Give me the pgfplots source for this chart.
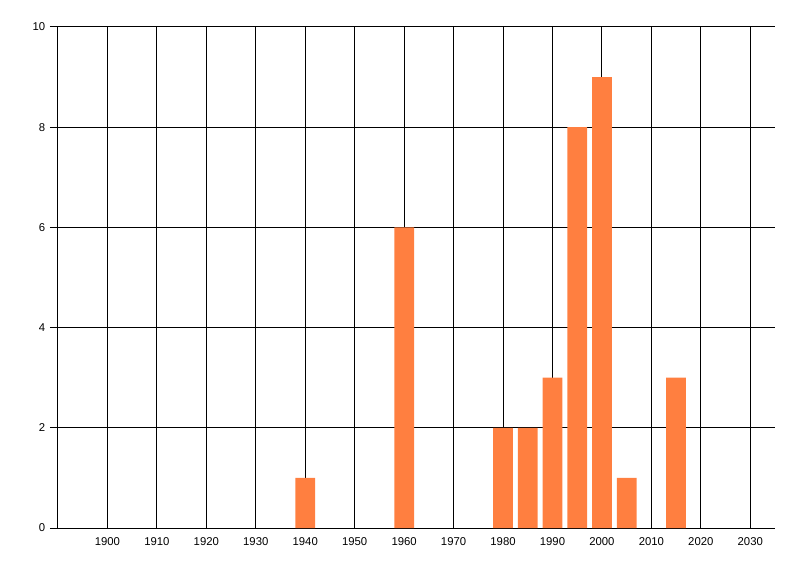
\documentclass[border=0pt]{standalone}
\usepackage{fontspec}
\setmainfont{Liberation Sans}
\usepackage{pgfplots}
\pgfplotsset{compat=1.18}
\definecolor{barc}{RGB}{255,127,64}
\begin{document}
\begin{tikzpicture}
\begin{axis}[
  at={(0,0)}, anchor=origin,
  scale only axis,
  width=537.75pt, height=375.75pt,
  xmin=1890, xmax=2035, ymin=0, ymax=10,
  axis lines=left,
  axis line style={-, line width=0.75pt, black},
  xtick={1900,1910,...,2030},
  ytick={0,2,...,10},
  xticklabel style={/pgf/number format/1000 sep={}, font=\fontsize{8.5}{10}\selectfont, yshift=-1pt},
  yticklabel style={font=\fontsize{8.5}{10}\selectfont},
  /pgf/number format/assume math mode=true,
  xmajorgrids, ymajorgrids,
  grid style={black, line width=0.75pt},
  x tick style={draw=none},
  y tick style={black, line width=0.75pt},
  ytick align=outside,
  major tick length=6pt,
  tick label style={black},
  clip=false,
]
\addplot[ybar, bar width=4, fill=barc, draw=none] coordinates {
(1940,1) (1960,6) (1980,2) (1985,2) (1990,3) (1995,8) (2000,9) (2005,1) (2015,3)
};
\end{axis}
\path[use as bounding box] (-43.5pt,-36pt) rectangle (556.5pt,396pt);
\end{tikzpicture}
\end{document}
